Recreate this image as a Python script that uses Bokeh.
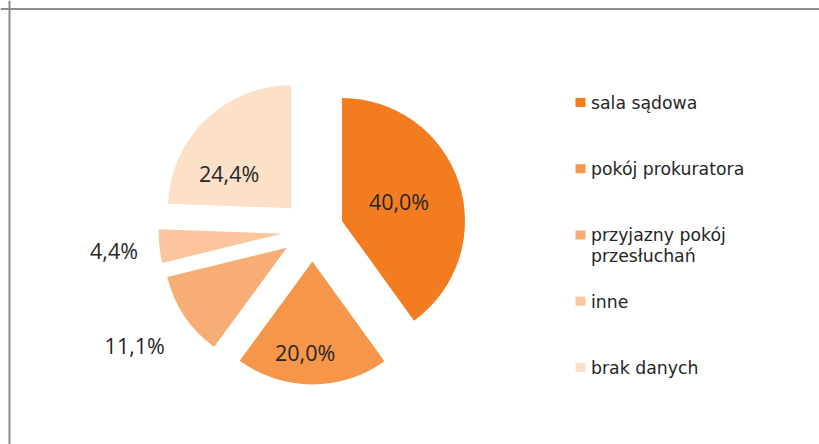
import numpy as np
from bokeh.plotting import figure
from bokeh.models import Range1d, Span
from bokeh.core.properties import value
from bokeh.embed import file_html
from bokeh.resources import INLINE

# ---- data ----
categories = ["sala sądowa", "pokój prokuratora", "przyjazny pokój\nprzesłuchań", "inne", "brak danych"]
shares = [40.0, 20.0, 11.1, 4.4, 24.4]
labels = ["40,0%", "20,0%", "11,1%", "4,4%", "24,4%"]
colors = ["#F47C20", "#F5964A", "#F8AD75", "#FBC69D", "#FDE0C8"]

# ---- layout / style ----
W, H = 819, 444
CX, CY, R, EXPLODE = 312, 214, 123, 31
label_r = [0.49, 0.74, 1.47, 1.37, 0.575]          # radial position (in radii) of each label
label_da = [1.0, -4.4, -1.0, 0.0, 17.0]             # angular tweak (deg) of each label
LEG_X, LEG_Y0, LEG_STEP, LEG_LINE = 575, 341.5, 66.2, 20.7

p = figure(width=W, height=H, x_range=Range1d(0, W), y_range=Range1d(0, H),
           output_backend="svg", toolbar_location=None, min_border=0)
p.axis.visible = False
p.grid.visible = False
p.outline_line_color = None
p.background_fill_color = "white"
p.border_fill_color = "white"

frac = np.array(shares) / np.sum(shares)
cum = np.concatenate([[0.0], np.cumsum(frac)])
start = np.pi / 2 - cum[:-1] * 2 * np.pi
end = np.pi / 2 - cum[1:] * 2 * np.pi
mid = (start + end) / 2
xs = CX + EXPLODE * np.cos(mid)
ys = CY + EXPLODE * np.sin(mid)

p.wedge(x=xs, y=ys, radius=R, start_angle=start, end_angle=end, direction="clock",
        fill_color=colors, line_color=None)

ang = mid + np.radians(label_da)
lx = xs + np.array(label_r) * R * np.cos(ang)
ly = ys + np.array(label_r) * R * np.sin(ang)
p.text(x=lx, y=ly, text=labels, text_font=value("Open Sans"), text_font_size="21.5px",
       text_color="#262626", text_align="center", text_baseline="middle")

# ---- legend ----
for i, (cat, col) in enumerate(zip(categories, colors)):
    ry = LEG_Y0 - i * LEG_STEP
    p.rect(x=[LEG_X + 5], y=[ry + 0.5], width=10, height=9, fill_color=col, line_color=None)
    for j, line in enumerate(cat.split("\n")):
        p.text(x=[LEG_X + 15.5], y=[ry - j * LEG_LINE], text=[line],
               text_font=value("DejaVu Sans"), text_font_size="17.3px",
               text_color="#262626", text_align="left", text_baseline="middle")

# ---- frame edges (top and left of the original chart frame) ----
p.add_layout(Span(location=H - 8.5, dimension="width", line_color="#1a1a1a", line_width=1))
p.add_layout(Span(location=9, dimension="height", line_color="#8a8a8a", line_width=2))

open("out.html", "w").write(file_html(p, INLINE))
